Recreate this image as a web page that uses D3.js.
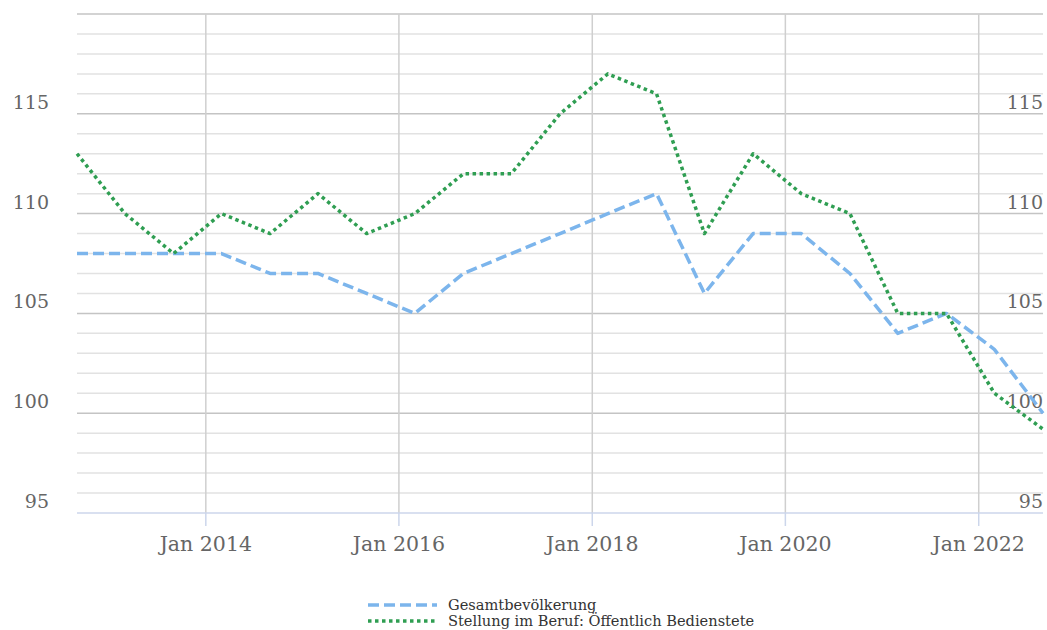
<!DOCTYPE html>
<html>
<head>
<meta charset="utf-8">
<script src="https://cdn.jsdelivr.net/npm/d3@7"></script>
<style>
  body { margin: 0; background: #fff; }
  svg { display: block; font-family: "DejaVu Serif", serif; }
  .tick-lbl { fill: #666; font-size: 19px; }
  .x-lbl { font-size: 20.5px; }
  .lg-lbl { fill: #333; font-size: 14.6px; }
</style>
</head>
<body>
<svg id="chart" width="1047" height="630"></svg>
<script>
// half-yearly observations, Sep 2012 .. Sep 2022
const DATES = ["2012-09", "2013-03", "2013-09", "2014-03", "2014-09", "2015-03", "2015-09",
  "2016-03", "2016-09", "2017-03", "2017-09", "2018-03", "2018-09", "2019-03", "2019-09",
  "2020-03", "2020-09", "2021-03", "2021-09", "2022-03", "2022-09"];
const GESAMT = [108, 108, 108, 108, 107, 107, 106, 105, 107, 108, 109, 110, 111, 106, 109,
  109, 107, 104, 105, 103.2, 100];
const OEFFENTLICH = [113, 110, 108, 110, 109, 111, 109, 110, 112, 112, 115, 117, 116, 109, 113,
  111, 110, 105, 105, 101, 99.2];
const SERIES_NAMES = ["Gesamtbevölkerung", "Stellung im Beruf: Öffentlich Bedienstete"];
const X_TICKS = ["2014-01", "2016-01", "2018-01", "2020-01", "2022-01"];
const Y_MAJOR = [95, 100, 105, 110, 115];
const Y_DOMAIN = [95, 120];

const parse = d3.timeParse("%Y-%m");
const fmt = d3.timeFormat("Jan %Y");
const dates = DATES.map(parse);

const svg = d3.select("#chart");
const L = 77, R = 1043, T = 14, B = 513;

const x = d3.scaleTime().domain([dates[0], dates[dates.length - 1]]).range([L, R]);
const y = d3.scaleLinear().domain(Y_DOMAIN).range([B, T]);

// minor + major horizontal grid
const minor = d3.range(Y_DOMAIN[0] + 1, Y_DOMAIN[1] + 1).filter(v => !Y_MAJOR.includes(v) && v !== Y_DOMAIN[1]);
svg.append("g").selectAll("line").data(minor).join("line")
  .attr("x1", L).attr("x2", R).attr("y1", d => y(d)).attr("y2", d => y(d))
  .attr("stroke", "#e2e2e2").attr("stroke-width", 1.5);
svg.append("g").selectAll("line").data(Y_MAJOR.filter(v => v !== 95).concat([Y_DOMAIN[1]])).join("line")
  .attr("x1", L).attr("x2", R).attr("y1", d => y(d)).attr("y2", d => y(d))
  .attr("stroke", "#c4c4c4").attr("stroke-width", 1.5);

// vertical grid + ticks
const xt = X_TICKS.map(parse);
svg.append("g").selectAll("line").data(xt).join("line")
  .attr("x1", d => x(d)).attr("x2", d => x(d)).attr("y1", T).attr("y2", B)
  .attr("stroke", "#cfcfcf").attr("stroke-width", 1.5);
svg.append("g").selectAll("line").data(xt).join("line")
  .attr("x1", d => x(d)).attr("x2", d => x(d)).attr("y1", B).attr("y2", B + 13)
  .attr("stroke", "#ccd6eb").attr("stroke-width", 1.5);
svg.append("line").attr("x1", L).attr("x2", R).attr("y1", B).attr("y2", B)
  .attr("stroke", "#ccd6eb").attr("stroke-width", 1.5);

svg.append("g").selectAll("text").data(xt).join("text").attr("class", "tick-lbl x-lbl")
  .attr("x", d => x(d)).attr("y", B + 38).attr("text-anchor", "middle").text(fmt);

// y labels both sides, sitting just above their line
[[49, "end"], [1043, "end"]].forEach(([lx, anchor]) => {
  svg.append("g").selectAll("text").data(Y_MAJOR).join("text").attr("class", "tick-lbl")
    .attr("x", lx).attr("y", d => y(d) - 5).attr("text-anchor", anchor).text(d => d);
});

const line = d3.line().x((d, i) => x(dates[i])).y(d => y(d));
const STYLES = [
  { color: "#7cb5ec", dash: "11,5" },
  { color: "#2f9e52", dash: "3.5,3.5" },
];
[GESAMT, OEFFENTLICH].forEach((vals, k) => {
  svg.append("path").datum(vals).attr("d", line).attr("fill", "none")
    .attr("stroke", STYLES[k].color).attr("stroke-width", 3.5)
    .attr("stroke-dasharray", STYLES[k].dash).attr("stroke-linejoin", "round");
});

// legend
const lg = svg.append("g");
SERIES_NAMES.forEach((nm, k) => {
  const ly = 605 + k * 16;
  lg.append("line").attr("x1", 368).attr("x2", 437).attr("y1", ly).attr("y2", ly)
    .attr("stroke", STYLES[k].color).attr("stroke-width", 3.5).attr("stroke-dasharray", STYLES[k].dash);
  lg.append("text").attr("class", "lg-lbl").attr("x", 448).attr("y", ly + 5).text(nm);
});
</script>
</body>
</html>
